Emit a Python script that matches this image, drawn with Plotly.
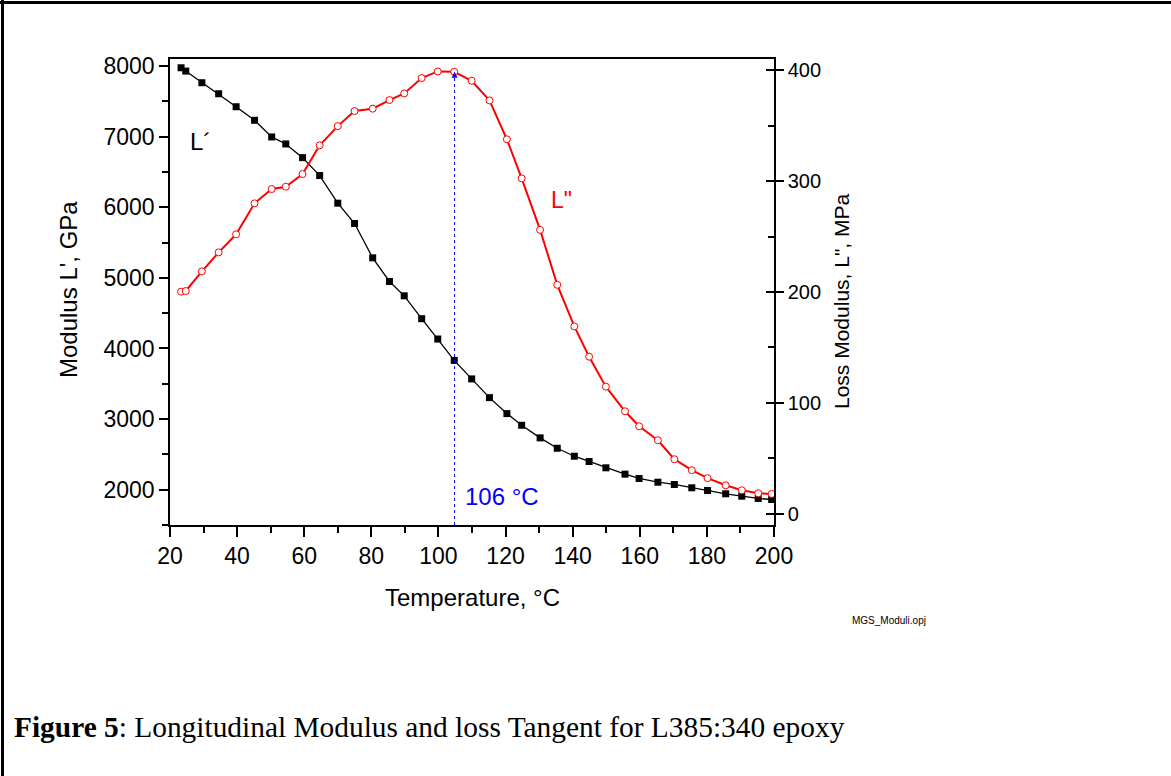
import plotly.graph_objects as go

# ---- data ----
temperature = [23.3, 24.7, 29.5, 34.5, 39.7, 45.2, 50.3, 54.5, 59.5, 64.6, 70.0, 75.0,
               80.4, 85.4, 89.8, 95.0, 99.8, 104.7, 109.9, 115.2, 120.4, 124.8, 130.3,
               135.4, 140.5, 144.9, 149.9, 155.6, 159.8, 165.4, 170.3, 175.5, 180.2,
               185.6, 190.4, 195.3, 199.3]
storage_modulus = [7976, 7929, 7764, 7608, 7424, 7232, 6996, 6897, 6703, 6449, 6058, 5770,
                   5284, 4949, 4746, 4422, 4134, 3831, 3569, 3304, 3078, 2912, 2734,
                   2587, 2474, 2399, 2310, 2220, 2159, 2106, 2074, 2027, 1989,
                   1942, 1908, 1876, 1861]
loss_modulus = [200.3, 200.9, 218.6, 235.7, 252.0, 279.9, 292.8, 294.9, 306.3, 332.2, 349.5, 363.1,
                365.2, 373.0, 379.0, 392.8, 398.8, 398.5, 390.4, 372.7, 337.6, 302.4, 256.0,
                206.5, 169.0, 141.7, 114.7, 92.5, 79.0, 66.4, 49.3, 39.4, 32.2,
                25.8, 21.3, 18.6, 18.0]
peak_temp = 104.8
peak_label = "106 °C"

FONT = "Arial, Liberation Sans, sans-serif"

W, H = 1171, 776
L, R, T, B = 170, 397, 59, 251
PW, PH = W - L - R, H - T - B


def px(xp):
    return (xp - L) / PW


def py(yp):
    return (H - B - yp) / PH


fig = go.Figure()
fig.add_trace(go.Scatter(
    x=temperature, y=storage_modulus, mode="lines+markers", name="L'",
    line=dict(color="black", width=1.3),
    marker=dict(symbol="square", size=7, color="black"),
    yaxis="y", showlegend=False))
fig.add_trace(go.Scatter(
    x=temperature, y=loss_modulus, mode="lines+markers", name='L"',
    line=dict(color="#ff0000", width=2),
    marker=dict(symbol="circle", size=7, color="white", line=dict(color="#ff0000", width=1)),
    yaxis="y2", showlegend=False))

axis_common = dict(showgrid=False, zeroline=False, showline=True, linecolor="black",
                   linewidth=1.5, tickcolor="black", tickwidth=1.5)

fig.update_layout(
    width=W, height=H,
    margin=dict(l=L, r=R, t=T, b=B, pad=0),
    paper_bgcolor="white", plot_bgcolor="white",
    font=dict(family=FONT, color="black"),
    xaxis=dict(range=[20, 200], tick0=20, dtick=20, ticks="outside", ticklen=10,
               mirror=True, tickfont=dict(size=23),
               minor=dict(dtick=10, ticks="outside", ticklen=6, tickcolor="black", tickwidth=1.5),
               **axis_common),
    yaxis=dict(range=[1500, 8100], tick0=0, dtick=1000, ticks="outside", ticklen=9,
               tickfont=dict(size=23),
               minor=dict(dtick=500, ticks="outside", ticklen=6, tickcolor="black", tickwidth=1.5),
               **axis_common),
    yaxis2=dict(range=[-10, 410], overlaying="y", side="right", tick0=0, dtick=100,
                ticks="outside", ticklen=8, tickfont=dict(size=20),
                minor=dict(dtick=50, ticks="inside", ticklen=6, tickcolor="black", tickwidth=1.5),
                **axis_common),
    yaxis3=dict(range=[-10, 410], overlaying="y", side="right", tick0=0, dtick=100,
                ticks="inside", ticklen=8, showticklabels=False, showgrid=False,
                zeroline=False, showline=False, tickcolor="black", tickwidth=1.5),
)
# dummy trace to activate yaxis3
fig.add_trace(go.Scatter(x=[None], y=[None], yaxis="y3", showlegend=False, hoverinfo="skip"))

# blue dashed marker line for the peak
fig.add_shape(type="line", xref="x", yref="y", x0=peak_temp, x1=peak_temp,
              y0=1500, y1=7880, line=dict(color="#0000ff", width=1, dash="3px,3px"))
fig.add_annotation(x=peak_temp, y=7918, xref="x", yref="y", ax=peak_temp, ay=7830,
                   axref="x", ayref="y", text="", showarrow=True, arrowhead=2,
                   arrowsize=1, arrowwidth=1.2, arrowcolor="#0000ff")

# text labels
fig.add_annotation(x=29.2, y=6938, xref="x", yref="y", text="L´", showarrow=False,
                   font=dict(size=24, color="black", family=FONT))
fig.add_annotation(x=136.8, y=283, xref="x", yref="y2", text='L"', showarrow=False,
                   font=dict(size=23, color="#ff0000", family=FONT))
fig.add_annotation(x=118.8, y=1909, xref="x", yref="y", text=peak_label, showarrow=False,
                   font=dict(size=24, color="#0000ff", family=FONT))


def paper_text(xp, yp, text, size, family=FONT, angle=0, xanchor="center"):
    fig.add_annotation(x=px(xp), y=py(yp), xref="paper", yref="paper", text=text,
                       showarrow=False, textangle=angle, xanchor=xanchor, yanchor="middle",
                       font=dict(size=size, family=family, color="black"))


# axis titles
paper_text(472, 597, "Temperature, °C", 24)
paper_text(68, 290, "Modulus L', GPa", 24, angle=-90)
paper_text(841, 301, 'Loss Modulus, L", MPa', 21, angle=-90)

# small file tag and figure caption
paper_text(889, 620, "MGS_Moduli.opj", 10)
paper_text(12, 727, "<b>Figure 5</b>: Longitudinal Modulus and loss Tangent for L385:340 epoxy",
           29.4, family="Times New Roman, Liberation Serif, serif", xanchor="left")

# page frame (top and left edges)
fig.add_shape(type="line", xref="paper", yref="paper", x0=px(0), x1=px(W),
              y0=py(2.5), y1=py(2.5), line=dict(color="black", width=3))
fig.add_shape(type="line", xref="paper", yref="paper", x0=px(2.5), x1=px(2.5),
              y0=py(0), y1=py(H), line=dict(color="black", width=3))

fig.write_html("out.html", config={"displayModeBar": False},
               post_script="document.body.style.margin='0';document.body.style.overflow='hidden';")
